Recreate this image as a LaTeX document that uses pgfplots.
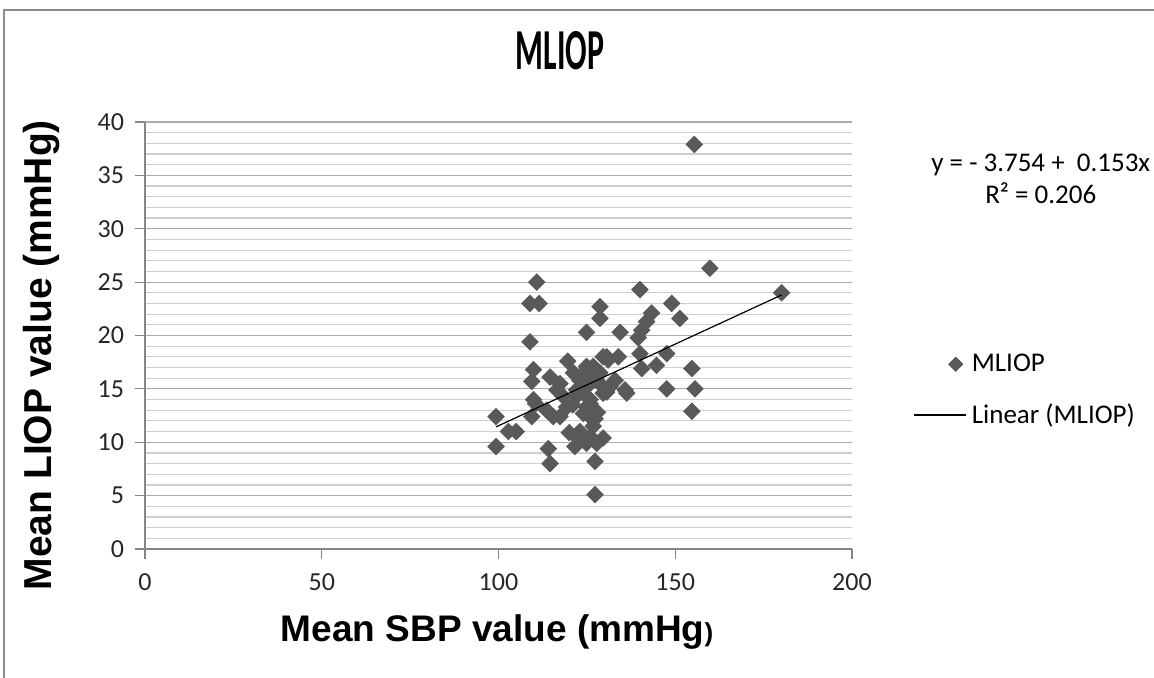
\documentclass[border=0pt]{standalone}
\usepackage{fontspec}
\setmainfont{Carlito}
\newfontfamily\arialfont{Liberation Sans}
\usepackage{pgfplots}
\usepackage{pgfplotstable}
\pgfplotsset{compat=1.18}

\definecolor{markgray}{HTML}{595959}
\definecolor{gridmajor}{HTML}{ABABAB}
\definecolor{gridminor}{HTML}{CFCFCF}
\definecolor{axisgray}{HTML}{868686}
\definecolor{framegray}{HTML}{8C8C8C}

% mean SBP vs mean LIOP
\pgfplotstableread{
x y
99.3 12.4
99.3 9.6
102.8 11.0
105.0 11.0
108.9 23.0
111.5 23.0
110.8 25.0
108.9 19.4
109.9 16.8
109.4 15.7
109.9 14.0
109.4 12.4
110.5 13.6
114.1 9.4
114.6 8.0
114.6 16.1
116.5 14.9
113.6 13.0
115.5 12.4
117.4 15.5
117.4 12.4
118.3 14.3
119.3 13.3
119.6 17.6
120.0 10.9
121.6 9.6
121.2 16.5
121.0 13.5
122.1 14.9
122.1 14.3
122.1 10.5
123.0 11.0
123.0 15.8
124.0 16.5
124.0 14.6
124.0 12.7
124.9 20.3
124.9 17.1
124.9 13.3
124.9 9.9
125.9 15.5
125.9 14.0
125.9 13.6
125.9 12.4
126.0 10.5
126.8 17.1
126.8 11.5
127.0 16.0
127.3 12.2
127.3 8.2
127.3 5.1
127.8 9.9
128.0 12.8
128.7 22.7
128.7 21.6
128.7 16.5
128.7 15.5
129.6 18.0
129.6 14.6
129.6 10.4
130.6 18.0
130.6 14.7
131.0 17.7
131.5 15.2
133.0 15.8
133.9 18.0
134.4 20.3
135.8 14.9
136.3 14.6
139.5 19.8
140.0 24.3
140.0 18.3
140.5 20.5
140.5 16.9
141.9 21.3
143.3 22.1
144.7 17.2
147.6 18.3
147.6 15.0
149.0 23.0
151.3 21.6
154.7 16.9
154.7 12.9
155.6 15.0
155.4 37.9
159.8 26.3
180.1 24.0
}\mliop

% linear fit y = -3.754 + 0.153x over the data range
\pgfplotstableread{
x y
99.3 11.44
180.1 23.80
}\fit

\begin{document}
\begin{tikzpicture}
\begin{axis}[
    scale only axis,
    width=353.5pt, height=213.5pt,
    xmin=0, xmax=200, ymin=0, ymax=40,
    clip mode=individual,
    axis lines*=left,
    axis line style={axisgray, line width=0.6pt},
    xtick={0,50,...,200}, ytick={0,5,...,40},
    minor ytick={1,...,39},
    tick align=outside,
    major tick length=5pt, minor tick length=0pt,
    tick style={axisgray, line width=0.6pt},
    ymajorgrids, yminorgrids,
    major grid style={gridmajor, line width=0.6pt},
    minor grid style={gridminor, line width=0.6pt},
    /pgf/number format/assume math mode=true,
    tick label style={font=\fontsize{13}{13}\selectfont, text=black!85},
    xticklabel style={yshift=-4pt},
    yticklabel style={xshift=-2pt},
    title={\scalebox{0.55}[1]{MLIOP}},
    title style={at={(axis description cs:0.587,1.14)}, anchor=center,
        font=\fontsize{29}{29}\selectfont\bfseries},
    xlabel={Mean SBP value (mmHg{\fontsize{13}{13}\selectfont)}},
    xlabel style={at={(axis description cs:0.498,-0.194)}, anchor=center,
        font=\arialfont\bfseries\fontsize{18.5}{18.5}\selectfont},
    ylabel={Mean LIOP value (mmHg)},
    ylabel style={at={(axis description cs:-0.146,0.454)}, anchor=center,
        font=\arialfont\bfseries\fontsize{19.5}{19.5}\selectfont},
    legend cell align=left,
    legend style={at={(axis description cs:1.086,0.372)}, anchor=west,
        draw=none, fill=none, row sep=10.5pt,
        inner xsep=0pt,
        nodes={inner xsep=1pt},
        font=\fontsize{13.5}{16}\selectfont},
]
\addplot[only marks, mark=square*, mark size=2.9pt,
    mark options={rotate=45, fill=markgray, draw=markgray},
    legend image code/.code={
        \draw[draw=none] (0pt,0pt) -- (28pt,0pt);
        \path plot[mark size=2.5pt] coordinates {(21pt,0pt)};}]
    table[x=x, y=y] {\mliop};
\addlegendentry{MLIOP}
\addplot[black, line width=0.6pt,
    legend image code/.code={\draw (0pt,0pt) -- (26pt,0pt);}]
    table[x=x, y=y] {\fit};
\addlegendentry{Linear (MLIOP)}
\node[align=center, font=\fontsize{13.5}{16}\selectfont]
    at (axis description cs:1.267,0.8665)
    {y = - 3.754 +\ \ 0.153x\\R² = 0.206};
\end{axis}
\draw[framegray, line width=0.6pt] (-70.5pt,-80pt) -- (-70.5pt,269.5pt) -- (520pt,269.5pt);
\pgfresetboundingbox
\useasboundingbox (-72.5pt,-64.5pt) rectangle (504.5pt,274.5pt);
\end{tikzpicture}
\end{document}
